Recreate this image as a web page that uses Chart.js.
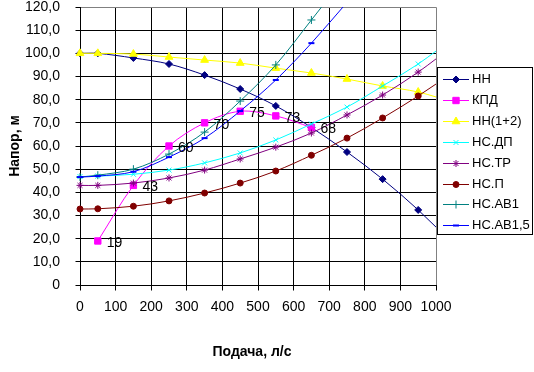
<!DOCTYPE html>
<html>
<head>
<meta charset="utf-8">
<script src="https://cdn.jsdelivr.net/npm/chart.js@4.4.1/dist/chart.umd.min.js"></script>
<style>
    html, body { margin: 0; padding: 0; background: #fff; }
</style>
</head>
<body>
<canvas id="chart" width="534" height="372"></canvas>
<script>

// data
const flow = [0, 50, 150, 250, 350, 450, 550, 650, 750, 850, 950, 1050];
const flowEff = [50, 150, 250, 350, 450, 550, 650];
const flowAv = [0, 50, 150, 250, 350, 450, 550, 650, 750];

const headNN = [100, 100, 98, 95.4, 90.6, 84.6, 77.3, 68, 57.4, 45.7, 32.4, 17.4];
const efficiency = [19, 43, 60, 70, 75, 73, 68];
const headNN12 = [100, 100, 99.7, 98.4, 97.1, 95.8, 93.6, 91.5, 88.9, 85.9, 83.3, 78.8];
const curveDP = [46.8, 47, 47.8, 49.6, 52.7, 57, 62.6, 69.5, 76.8, 85.9, 95.4, 106.8];
const curveTR = [43, 43, 44, 46.2, 49.6, 54.4, 59.5, 65.6, 73.4, 82, 91.9, 103.5];
const curveP = [32.8, 32.9, 34, 36.3, 39.7, 44, 49.2, 56, 63.4, 72.1, 81.6, 92];
const curveAV1 = [46.6, 47.4, 50, 56.5, 66, 79.4, 95, 114.4, 134];
const curveAV15 = [46.6, 47, 48.9, 55.2, 63.4, 75.1, 88.5, 104.4, 122];

const seriesNames = ['НН', 'КПД', 'НН(1+2)', 'НС.ДП', 'НС.ТР', 'НС.П', 'НС.АВ1', 'НС.АВ1,5'];
const xTicks = [0, 100, 200, 300, 400, 500, 600, 700, 800, 900, 1000];
const yTicks = [0, 10, 20, 30, 40, 50, 60, 70, 80, 90, 100, 110, 120];

const FONT = '"Liberation Sans", Arial, sans-serif';

function points(xs, ys) {
    return ys.map((y, i) => ({ x: xs[i], y: y }));
}

function series(index, xs, ys, color, style, radius, borderWidth) {
    return {
        label: seriesNames[index],
        data: points(xs, ys),
        showLine: true,
        tension: 0.33,
        borderColor: color,
        backgroundColor: color,
        borderWidth: 1,
        pointStyle: style,
        pointRadius: radius,
        pointHoverRadius: radius,
        pointBorderWidth: borderWidth,
        pointBackgroundColor: color,
        pointBorderColor: color,
        clip: { left: 10, top: 0, right: 0, bottom: 10 },
        order: seriesNames.length - index
    };
}

const datasets = [
    series(0, flow, headNN, '#000080', 'rectRot', 3.5, 1),
    series(1, flowEff, efficiency, '#FF00FF', 'rect', 4.5, 1),
    series(2, flow, headNN12, '#FFFF00', 'triangle', 4.5, 1),
    series(3, flow, curveDP, '#00FFFF', 'crossRot', 3.5, 1),
    series(4, flow, curveTR, '#800080', 'star', 3.5, 1),
    series(5, flow, curveP, '#800000', 'circle', 3, 1),
    series(6, flowAv, curveAV1, '#008080', 'cross', 4, 1),
    series(7, flowAv, curveAV15, '#0000FF', 'line', 3, 2)
];

function crisp(p) {
    return Math.round(p - 0.5) + 0.5;
}

// grid, tick marks and plot frame, placed from the scales themselves
const gridLines = {
    id: 'gridLines',
    beforeDatasetsDraw(chart) {
        const c = chart.ctx;
        const xs = chart.scales.x;
        const ys = chart.scales.y;
        const left = crisp(xs.getPixelForValue(xTicks[0]));
        const right = crisp(xs.getPixelForValue(xTicks[xTicks.length - 1]));
        const bottom = crisp(ys.getPixelForValue(yTicks[0]));
        const top = crisp(ys.getPixelForValue(yTicks[yTicks.length - 1]));
        c.save();
        c.lineWidth = 1;
        c.setLineDash([]);

        c.strokeStyle = '#000';
        c.beginPath();
        yTicks.forEach(v => {
            const y = crisp(ys.getPixelForValue(v));
            c.moveTo(left - 5, y);
            c.lineTo(v === yTicks[yTicks.length - 1] ? left + 0.5 : right, y);
        });
        xTicks.forEach(v => {
            const x = crisp(xs.getPixelForValue(v));
            c.moveTo(x, v === xTicks[xTicks.length - 1] ? bottom - 0.5 : top, );
            c.lineTo(x, bottom + 5);
        });
        c.stroke();

        c.strokeStyle = '#808080';
        c.beginPath();
        c.moveTo(left + 0.5, top);
        c.lineTo(right, top);
        c.lineTo(right, bottom - 0.5);
        c.stroke();

        c.strokeStyle = '#000';
        c.beginPath();
        c.moveTo(left, top);
        c.lineTo(left, bottom);
        c.lineTo(right, bottom);
        c.stroke();
        c.restore();
    }
};

const extras = {
    id: 'extras',
    afterDatasetsDraw(chart) {
        // value labels next to the efficiency points
        const c = chart.ctx;
        const meta = chart.getDatasetMeta(1);
        c.save();
        c.font = '14px ' + FONT;
        c.fillStyle = '#000';
        c.textAlign = 'left';
        c.textBaseline = 'middle';
        meta.data.forEach((pt, i) => {
            c.fillText(String(efficiency[i]), pt.x + 9, pt.y + 2);
        });
        c.restore();
    },
    afterDraw(chart) {
        const c = chart.ctx;
        c.save();

        // axis titles
        c.fillStyle = '#000';
        c.font = 'bold 14px ' + FONT;
        c.textAlign = 'center';
        c.textBaseline = 'middle';
        c.fillText('Подача, л/с', 252, 352);
        c.save();
        c.translate(15, 146);
        c.rotate(-Math.PI / 2);
        c.fillText('Напор, м', 0, 0);
        c.restore();

        // legend
        c.strokeStyle = '#000';
        c.lineWidth = 1;
        c.strokeRect(437.5, 67.5, 95, 167);
        c.font = '13px ' + FONT;
        c.textAlign = 'left';
        chart.data.datasets.forEach((ds, i) => {
            const y = Math.round(79 + i * 20.9) + 0.5;
            c.strokeStyle = ds.borderColor;
            c.lineWidth = 1;
            c.beginPath();
            c.moveTo(443, y);
            c.lineTo(469, y);
            c.stroke();
            c.fillStyle = ds.pointBackgroundColor;
            c.strokeStyle = ds.pointBorderColor;
            c.lineWidth = ds.pointBorderWidth;
            Chart.helpers.drawPoint(c, {
                pointStyle: ds.pointStyle,
                radius: ds.pointRadius,
                borderWidth: ds.pointBorderWidth,
                rotation: 0
            }, 456, y);
            c.fillStyle = '#000';
            c.fillText(ds.label, 472, y);
        });

        c.restore();
    }
};

const ctx = document.getElementById('chart').getContext('2d');

new Chart(ctx, {
    type: 'scatter',
    data: { datasets: datasets },
    options: {
        responsive: false,
        animation: false,
        events: [],
        locale: 'ru-RU',
        layout: {
            padding: { left: 0, right: 98, top: 7, bottom: 0 }
        },
        plugins: {
            legend: { display: false },
            tooltip: { enabled: false }
        },
        scales: {
            x: {
                type: 'linear',
                min: xTicks[0],
                max: xTicks[xTicks.length - 1],
                afterFit: scale => { scale.height = 87; },
                ticks: {
                    stepSize: xTicks[1] - xTicks[0],
                    color: '#000',
                    padding: 6,
                    maxRotation: 0,
                    autoSkip: false,
                    format: { useGrouping: false },
                    font: { family: FONT, size: 14 }
                },
                grid: { display: false },
                border: { display: false }
            },
            y: {
                type: 'linear',
                min: yTicks[0],
                max: yTicks[yTicks.length - 1],
                afterFit: scale => {
                    scale.width = 80;
                    scale.paddingTop = 0;
                },
                ticks: {
                    stepSize: yTicks[1] - yTicks[0],
                    color: '#000',
                    padding: 12,
                    autoSkip: false,
                    format: { minimumFractionDigits: 1, maximumFractionDigits: 1, useGrouping: false },
                    font: { family: FONT, size: 14, lineHeight: 1 }
                },
                grid: { display: false },
                border: { display: false }
            }
        }
    },
    plugins: [gridLines, extras]
});
</script>
</body>
</html>
